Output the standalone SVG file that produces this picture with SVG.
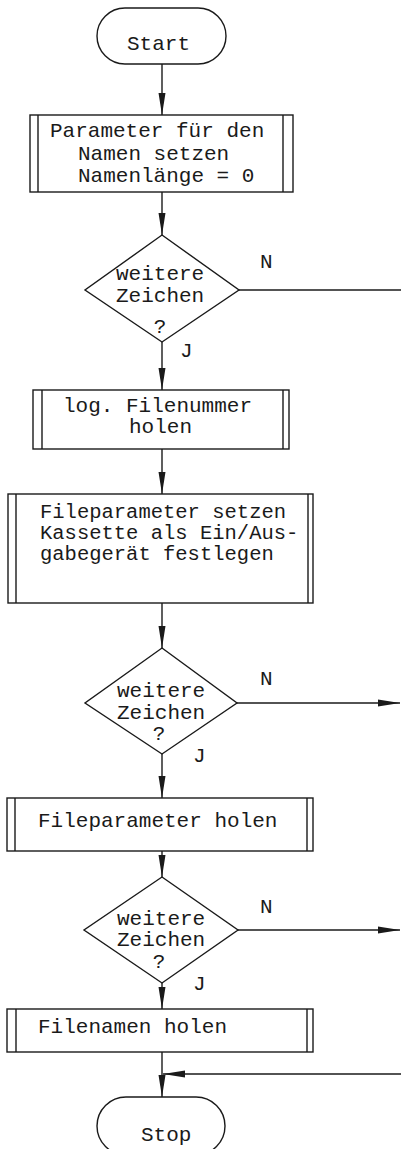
<svg xmlns="http://www.w3.org/2000/svg" width="401" height="1149" viewBox="0 0 401 1149">
<style>
.s{fill:#fff;stroke:#1a1a1a;stroke-width:1.4}
.b{fill:none;stroke:#1a1a1a;stroke-width:1.4}
.c{fill:none;stroke:#1a1a1a;stroke-width:1.4}
text{font-family:"Liberation Mono","DejaVu Sans Mono",monospace;font-size:21px;fill:#1a1a1a}
.m{text-anchor:middle}
.t{font-size:20.5px}
</style>
<defs>
<marker id="ah" markerUnits="userSpaceOnUse" markerWidth="24" markerHeight="10" refX="22" refY="4" orient="auto">
<path d="M0,0.5 L22,4 L0,7.5 z" fill="#1a1a1a"/>
</marker>
</defs>
<rect width="401" height="1149" fill="#fff"/>
<g id="connectors">
<path class="c" d="M162,64 V115" marker-end="url(#ah)"/>
<path class="c" d="M162,192 V235" marker-end="url(#ah)"/>
<path class="c" d="M239,290 H401"/>
<path class="c" d="M162,342 V390" marker-end="url(#ah)"/>
<path class="c" d="M162,449 V494" marker-end="url(#ah)"/>
<path class="c" d="M162,603 V648" marker-end="url(#ah)"/>
<path class="c" d="M237,703 H400" marker-end="url(#ah)"/>
<path class="c" d="M162,754 V798" marker-end="url(#ah)"/>
<path class="c" d="M162,851 V877" marker-end="url(#ah)"/>
<path class="c" d="M238,930 H400" marker-end="url(#ah)"/>
<path class="c" d="M162,983 V1009" marker-end="url(#ah)"/>
<path class="c" d="M162,1052 V1097" marker-end="url(#ah)"/>
<path class="c" d="M401,1074 H163" marker-end="url(#ah)"/>
</g>
<g id="start">
<rect class="s" x="97" y="8" width="129" height="56" rx="28"/>
<text x="127" y="50">Start</text>
</g>
<g id="box1">
<rect class="s" x="30" y="115" width="263" height="77"/>
<path class="b" d="M38,115 V192 M283,115 V192"/>
<text x="50" y="137">Parameter für den</text>
<text x="78" y="160">Namen setzen</text>
<text x="78" y="182">Namenlänge = 0</text>
</g>
<g id="dec1">
<polygon class="s" points="162,235 239,290 162,342 85,290"/>
<text x="116" y="280">weitere</text>
<text x="116" y="302">Zeichen</text>
<text class="m" x="160" y="333">?</text>
<text x="260" y="268">N</text>
<text x="180" y="357">J</text>
</g>
<g id="box2">
<rect class="s" x="33" y="390" width="256" height="59"/>
<path class="b" d="M42,390 V449 M283,390 V449"/>
<text x="63" y="412">log. Filenummer</text>
<text x="129" y="433">holen</text>
</g>
<g id="box3">
<rect class="s" x="8" y="494" width="305" height="109"/>
<path class="b" d="M16,494 V603 M308,494 V603"/>
<text class="t" x="40" y="518">Fileparameter setzen</text>
<text class="t" x="40" y="539">Kassette als Ein/Aus-</text>
<text class="t" x="40" y="560">gabegerät festlegen</text>
</g>
<g id="dec2">
<polygon class="s" points="162,648 237,703 162,754 85,703"/>
<text x="117" y="697">weitere</text>
<text x="117" y="719">Zeichen</text>
<text class="m" x="159" y="740">?</text>
<text x="260" y="685">N</text>
<text x="193" y="762">J</text>
</g>
<g id="box4">
<rect class="s" x="7" y="798" width="306" height="53"/>
<path class="b" d="M15,798 V851 M307,798 V851"/>
<text x="38" y="827">Fileparameter holen</text>
</g>
<g id="dec3">
<polygon class="s" points="162,877 238,930 162,983 84,930"/>
<text x="117" y="925">weitere</text>
<text x="117" y="946">Zeichen</text>
<text class="m" x="159" y="968">?</text>
<text x="260" y="913">N</text>
<text x="193" y="990">J</text>
</g>
<g id="box5">
<rect class="s" x="7" y="1009" width="306" height="43"/>
<path class="b" d="M16,1009 V1052 M307,1009 V1052"/>
<text x="38" y="1033">Filenamen holen</text>
</g>
<g id="stop">
<rect class="s" x="97" y="1097" width="128" height="58" rx="29"/>
<text x="141" y="1141">Stop</text>
</g>
</svg>
